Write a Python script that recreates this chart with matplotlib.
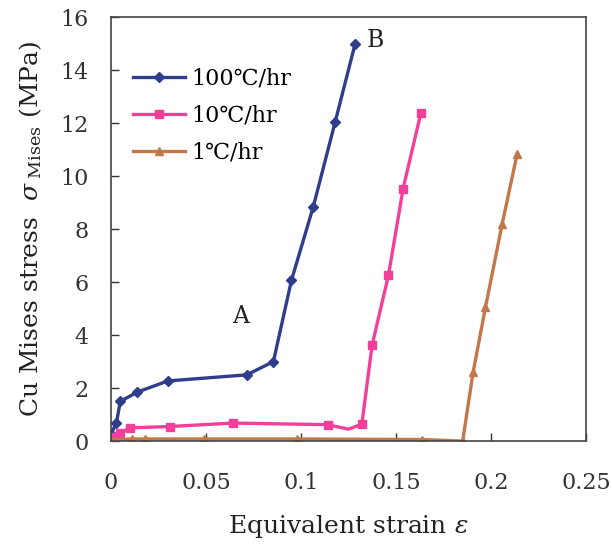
import matplotlib.pyplot as plt

plt.rcParams['font.family'] = ['DejaVu Serif']
plt.rcParams['mathtext.fontset'] = 'dejavuserif'

# 100 C/hr cooling
strain_100 = [0.0, 0.003, 0.005, 0.014, 0.030, 0.0715, 0.0855, 0.095, 0.1065, 0.118, 0.1285]
stress_100 = [0.25, 0.7, 1.5, 1.85, 2.27, 2.5, 3.0, 6.07, 8.85, 12.05, 15.0]

# 10 C/hr cooling
strain_10 = [0.0005, 0.005, 0.010, 0.031, 0.064, 0.114, 0.125, 0.132, 0.1374, 0.146, 0.1537, 0.163]
stress_10 = [0.15, 0.3, 0.5, 0.55, 0.68, 0.62, 0.45, 0.64, 3.62, 6.26, 9.53, 12.37]
marks_10 = [0, 1, 2, 3, 4, 5, 7, 8, 9, 10, 11]

# 1 C/hr cooling
strain_1 = [0.0, 0.011, 0.018, 0.049, 0.098, 0.1637, 0.185, 0.1905, 0.197, 0.2058, 0.2137]
stress_1 = [0.05, 0.08, 0.08, 0.08, 0.08, 0.06, 0.0, 2.6, 5.05, 8.2, 10.85]

labels = ['100℃/hr', '10℃/hr', '1℃/hr']
colors = ['#2f3d8c', '#f2409a', '#c47748']

fig = plt.figure(figsize=(6.12, 5.5), dpi=100)
ax = fig.add_axes([0.181, 0.198, 0.777, 0.771])

ax.plot(strain_100, stress_100, color=colors[0], lw=2.4, marker='D', ms=5, label=labels[0])
ax.plot(strain_10, stress_10, color=colors[1], lw=2.4, marker='s', ms=5.5,
        markevery=marks_10, label=labels[1])
ax.plot(strain_1, stress_1, color=colors[2], lw=2.4, marker='^', ms=6, label=labels[2])

ax.text(0.064, 4.7, 'A', fontsize=17, ha='left', va='center', color='#222222')
ax.text(strain_100[-1] + 0.006, stress_100[-1] + 0.1, 'B', fontsize=17, ha='left',
        va='center', color='#222222')

ax.set_xlim(0, 0.25)
ax.set_ylim(0, 16)
ax.set_xticks([0, 0.05, 0.1, 0.15, 0.2, 0.25])
ax.set_xticklabels(['0', '0.05', '0.1', '0.15', '0.2', '0.25'])
ax.set_yticks(range(0, 17, 2))
ax.tick_params(direction='in', length=6, width=1, labelsize=16, colors='#333333')
ax.tick_params(axis='x', pad=22)
ax.tick_params(axis='y', pad=16)
for s in ax.spines.values():
    s.set_color('#444444')
    s.set_linewidth(1.2)

ax.set_xlabel(r'Equivalent strain $\varepsilon$', fontsize=18, color='#222222',
              labelpad=14)
ax.set_ylabel(r'Cu Mises stress  $\sigma_{\rm \ Mises}$ (MPa)', fontsize=18,
              color='#222222', labelpad=12)

ax.legend(loc='upper left', bbox_to_anchor=(0.015, 0.918), frameon=False, fontsize=16,
          handlelength=2.3, handletextpad=0.3, labelspacing=0.68, borderaxespad=0.3)

fig.savefig('out.png', dpi=100)
